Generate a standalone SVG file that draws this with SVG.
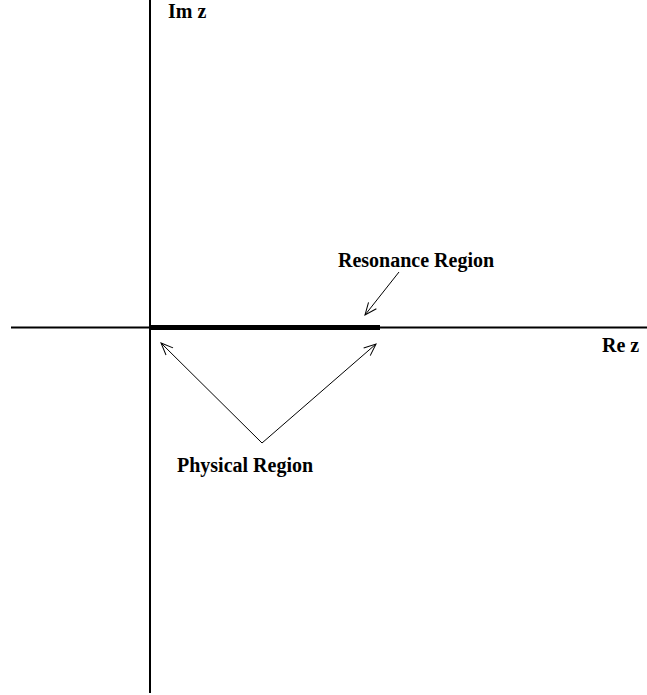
<svg xmlns="http://www.w3.org/2000/svg" width="647" height="695" viewBox="0 0 647 695">
<style>
.lbl{font-family:"Liberation Serif","Times New Roman",serif;font-weight:bold;font-size:20px;fill:#000}
.axis{stroke:#000;stroke-width:2;fill:none}
.arr{stroke:#000;stroke-width:1;fill:none;marker-end:url(#ah)}
</style>
<defs>
<marker id="ah" markerUnits="userSpaceOnUse" markerWidth="20" markerHeight="20" refX="14" refY="10" orient="auto">
<path d="M2,5 L14,10 L2,15" fill="none" stroke="#000" stroke-width="1"/>
</marker>
</defs>
<rect width="647" height="695" fill="#fff"/>
<g id="axes">
<line class="axis" x1="150" y1="0" x2="150" y2="693"/>
<line class="axis" x1="11" y1="327.5" x2="647" y2="327.5"/>
</g>
<g id="region">
<line x1="150" y1="327.5" x2="380" y2="327.5" stroke="#000" stroke-width="5"/>
</g>
<g id="connectors">
<line class="arr" x1="399" y1="272" x2="365" y2="315"/>
<line class="arr" x1="262" y1="443" x2="161" y2="343"/>
<line class="arr" x1="262" y1="443" x2="376" y2="344"/>
</g>
<g id="labels">
<text class="lbl" x="168" y="18">Im z</text>
<text class="lbl" x="338" y="267">Resonance Region</text>
<text class="lbl" x="602" y="352">Re z</text>
<text class="lbl" x="177" y="472">Physical Region</text>
</g>
</svg>
